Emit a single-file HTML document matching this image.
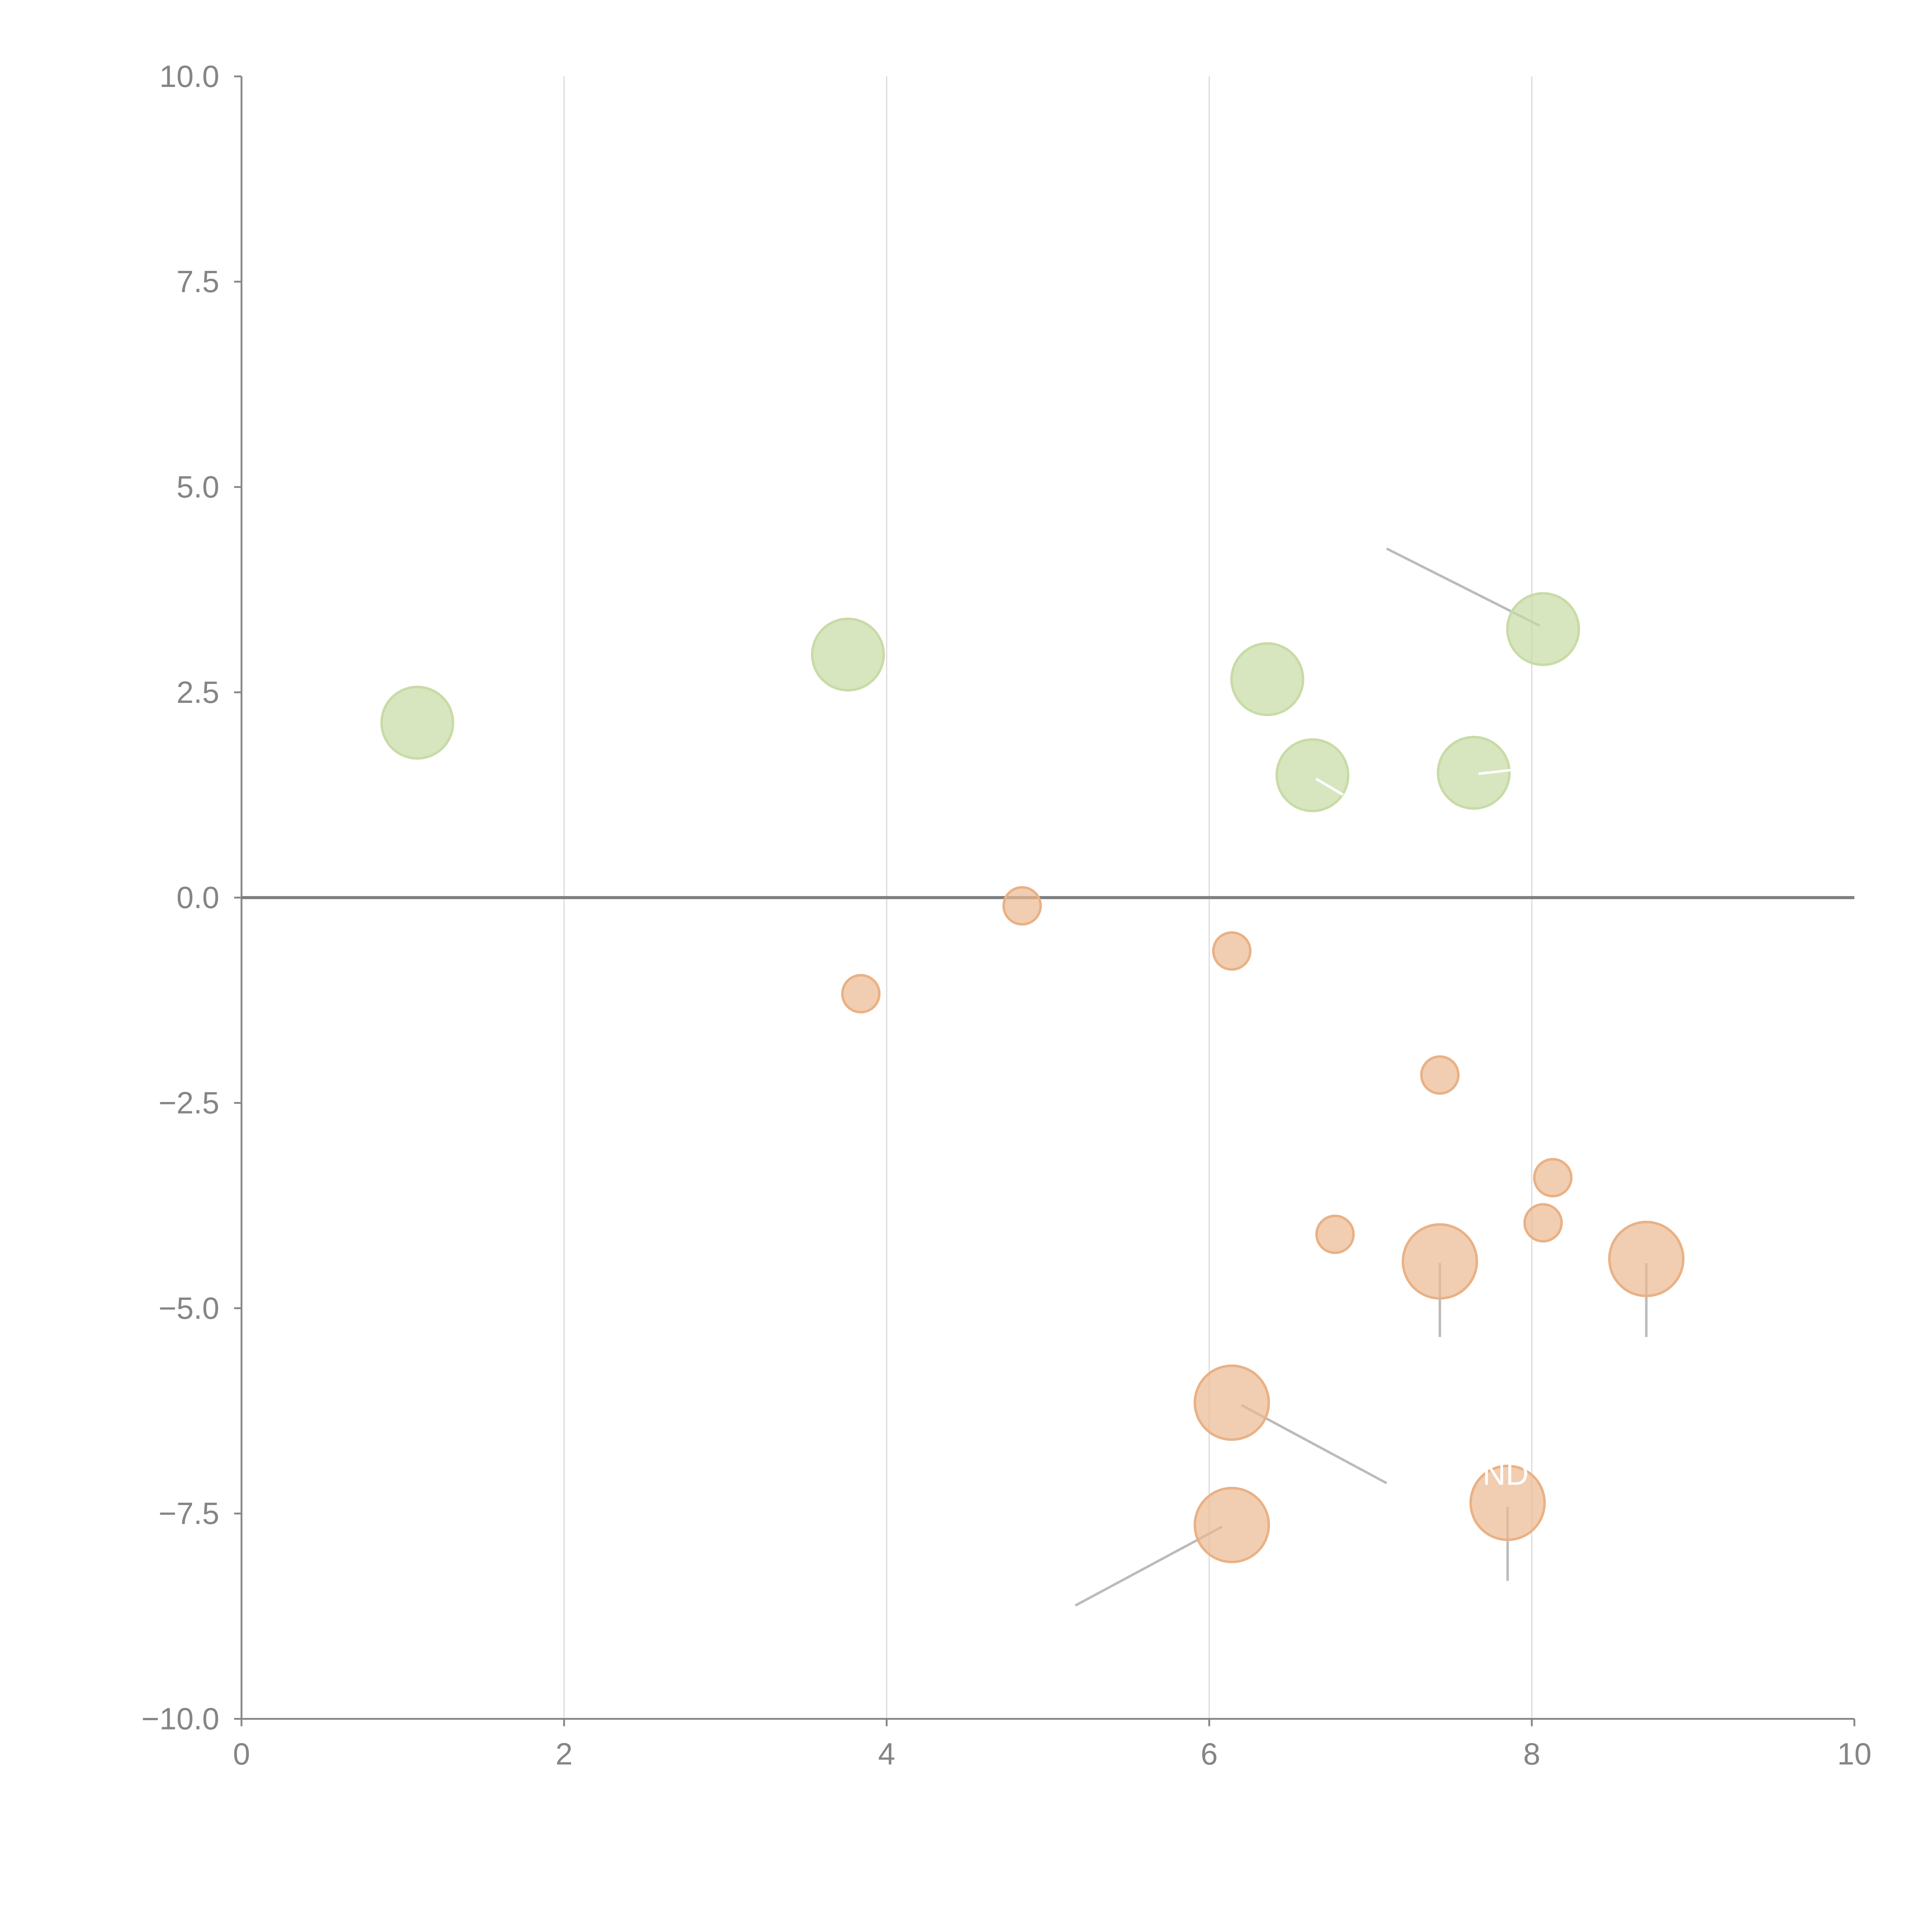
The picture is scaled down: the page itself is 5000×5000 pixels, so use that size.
<!DOCTYPE html>
<html><head><meta charset="utf-8"><style>html,body{margin:0;padding:0;background:#fff}svg{display:block}</style></head>
<body>
<svg id="chart" width="5000" height="5000" viewBox="0 0 1568 1568" xmlns="http://www.w3.org/2000/svg" font-family="Liberation Sans, Arial, sans-serif">
<g id="grid"></g>
<g id="axes"></g>
<g id="leaders"></g>
<g id="marks"></g>
<g id="labels"></g>
</svg>
<script>
const xTicks = [0, 2, 4, 6, 8, 10];
const yTicks = [10, 7.5, 5, 2.5, 0, -2.5, -5, -7.5, -10];
const yTickLabels = ["10.0", "7.5", "5.0", "2.5", "0.0", "\u22122.5", "\u22125.0", "\u22127.5", "\u221210.0"];
const greenX = [1.09, 3.76, 6.36, 6.64, 7.64, 8.07];
const greenY = [2.13, 2.96, 2.66, 1.49, 1.52, 3.27];
const orangeSmallX = [4.84, 3.84, 6.14, 7.43, 8.13, 8.07, 6.78];
const orangeSmallY = [-0.10, -1.17, -0.65, -2.16, -3.41, -3.96, -4.10];
const orangeBigX = [7.43, 8.71, 6.14, 6.14, 7.85];
const orangeBigY = [-4.43, -4.40, -6.15, -7.64, -7.37];
const leaderFrom = [[7.10, 4.25], [7.43, -4.45], [8.71, -4.45], [6.20, -6.18], [6.08, -7.66], [7.85, -7.42]];
const leaderTo = [[8.05, 3.31], [7.43, -5.35], [8.71, -5.35], [7.10, -7.13], [5.17, -8.62], [7.85, -8.32]];

const X0 = 196, X1 = 1505, Y0 = 1395, Y1 = 62;
const sx = v => X0 + (v - 0) / 10 * (X1 - X0);
const sy = v => Y0 - (v + 10) / 20 * (Y0 - Y1);
const NS = "http://www.w3.org/2000/svg";
function mk(tag, parent, attrs) {
  const e = document.createElementNS(NS, tag);
  for (const k in attrs) e.setAttribute(k, attrs[k]);
  parent.appendChild(e);
  return e;
}
const grid = document.getElementById('grid'), axes = document.getElementById('axes');
const marks = document.getElementById('marks'), leaders = document.getElementById('leaders');

xTicks.forEach(t => {
  if (t > 0 && t < 10) {
    const g = mk('line', grid, {x1: sx(t), x2: sx(t), y1: Y1, y2: Y0, stroke: '#dcdcdc', 'stroke-width': 1});
    
    
  }
  const tk = mk('line', axes, {x1: sx(t), x2: sx(t), y1: Y0, y2: Y0 + 6, stroke: '#888', 'stroke-width': 1.5});
  
  
  const tx = mk('text', axes, {x: sx(t), y: Y0 + 37, 'text-anchor': 'middle', 'font-size': 25, fill: '#858585'});
  tx.textContent = String(t);
  
  
});
yTicks.forEach((t, i) => {
  const tk = mk('line', axes, {x1: X0 - 6, x2: X0, y1: sy(t), y2: sy(t), stroke: '#888', 'stroke-width': 1.5});
  
  
  const tx = mk('text', axes, {x: X0 - 18, y: sy(t) + 8.5, 'text-anchor': 'end', 'font-size': 25, fill: '#858585'});
  tx.textContent = yTickLabels[i];
  
  
});
let a = mk('line', axes, {x1: X0, x2: X0, y1: Y1, y2: Y0, stroke: '#888', 'stroke-width': 1.5});


a = mk('line', axes, {x1: X0, x2: X1, y1: Y0, y2: Y0, stroke: '#888', 'stroke-width': 1.5});


a = mk('line', axes, {x1: X0, x2: X1, y1: sy(0), y2: sy(0), stroke: '#808080', 'stroke-width': 2.5});



leaderFrom.forEach((p, i) => {
  const l = mk('line', leaders, {x1: sx(p[0]), y1: sy(p[1]), x2: sx(leaderTo[i][0]), y2: sy(leaderTo[i][1]), stroke: '#bbbbbb', 'stroke-width': 2});
  
  
});

greenX.forEach((v, i) => {
  const c = mk('circle', marks, {cx: sx(v), cy: sy(greenY[i]), r: 29, fill: 'rgba(200,219,164,0.7)', stroke: '#c8dba6', 'stroke-width': 2});
  
  
});
orangeSmallX.forEach((v, i) => {
  const c = mk('circle', marks, {cx: sx(v), cy: sy(orangeSmallY[i]), r: 15, fill: 'rgba(235,185,145,0.7)', stroke: '#e9b185', 'stroke-width': 2});
  
  
});
orangeBigX.forEach((v, i) => {
  const c = mk('circle', marks, {cx: sx(v), cy: sy(orangeBigY[i]), r: 30, fill: 'rgba(235,185,145,0.7)', stroke: '#e9b185', 'stroke-width': 2});
  
  
});
const labels = document.getElementById('labels');
const lb = mk('text', labels, {x: 1222, y: 1205, 'text-anchor': 'middle', 'font-size': 26, fill: '#ffffff'});
lb.textContent = 'ND';


const wl1 = mk('line', labels, {x1: 1068, y1: 632, x2: 1090, y2: 645, stroke: '#ffffff', 'stroke-width': 2});


const wl2 = mk('line', labels, {x1: 1200, y1: 628, x2: 1226, y2: 625, stroke: '#ffffff', 'stroke-width': 2});


</script>
</body></html>
